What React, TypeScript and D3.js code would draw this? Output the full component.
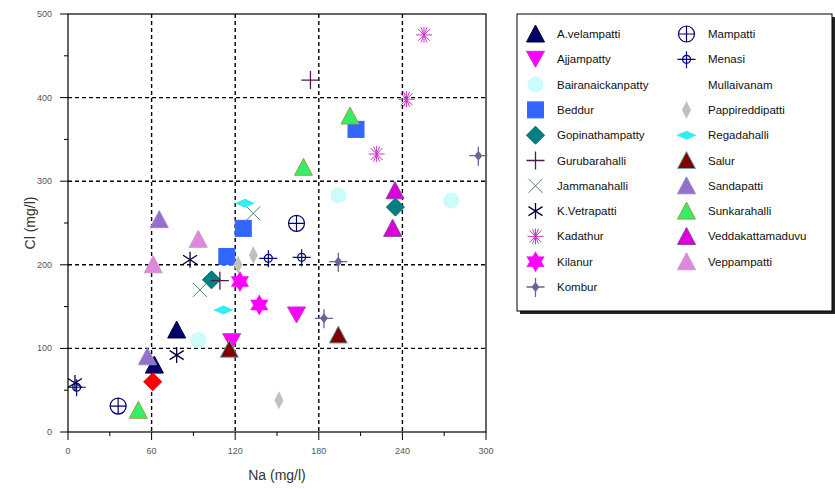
import React from 'react';
import * as d3 from 'd3';

// ---------- data (Na mg/l, Cl mg/l) ----------
const xTicks = [0, 60, 120, 180, 240, 300];
const yTicks = [0, 100, 200, 300, 400, 500];
const xMinor = [30, 90, 150, 210, 270];
const yMinor = [50, 150, 250, 350, 450];

const aVelampatti = [[78, 122], [62, 80]];
const ajjampatty = [[164, 140], [117.5, 108]];
const bairanaickanpatty = [[194, 283], [275, 277], [93.5, 110]];
const beddur = [[206.7, 362], [125.8, 243.6], [114, 210]];
const gopinathampatty = [[235, 269], [103, 182]];
const gurubarahalli = [[174, 421], [109, 181]];
const jammanahalli = [[133, 261.5], [94.7, 170]];
const kVetrapatti = [[87.6, 206], [78, 92], [5, 58.6]];
const kadathur = [[255.5, 475], [243, 398], [221.5, 332.5]];
const kilanur = [[123.4, 180], [137.3, 152]];
const kombur = [[294.5, 330.5], [194, 203.7], [183.7, 136]];
const mampatti = [[164, 249.6], [36, 31]];
const menasi = [[167.7, 209], [143.8, 207.7], [6.2, 53.5]];
const mullaivanam = [[60.8, 60]];
const pappireddipatti = [[151.4, 38], [133, 211.7], [122, 200]];
const regadahalli = [[127, 273.5], [111.5, 146]];
const salur = [[115.8, 99], [194, 116]];
const sandapatti = [[65.5, 254], [57, 90]];
const sunkarahalli = [[202.4, 378], [169, 316.6], [50.5, 26]];
const veddakattamaduvu = [[234.7, 288.6], [233, 243.6]];
const veppampatti = [[93.5, 230.5], [61.2, 200]];

type Shape = 'triUp' | 'triDown' | 'circle' | 'square' | 'diamond' | 'plus' | 'cross' | 'ast6' | 'ast8' | 'star6' | 'star4' | 'circPlus' | 'smallCircPlus' | 'thinDiamond' | 'flatDiamond' | 'none';

interface Series { name: string; pts: number[][]; shape: Shape; fill: string; stroke: string; legendShape?: Shape; }

const series: Series[] = [
  { name: 'A.velampatti', pts: aVelampatti, shape: 'triUp', fill: '#000066', stroke: '#000044' },
  { name: 'Ajjampatty', pts: ajjampatty, shape: 'triDown', fill: '#ff00ff', stroke: '#cc33cc' },
  { name: 'Bairanaickanpatty', pts: bairanaickanpatty, shape: 'circle', fill: '#ccfbfb', stroke: 'none' },
  { name: 'Beddur', pts: beddur, shape: 'square', fill: '#3366ff', stroke: '#3366ff' },
  { name: 'Gopinathampatty', pts: gopinathampatty, shape: 'diamond', fill: '#008080', stroke: '#006666' },
  { name: 'Gurubarahalli', pts: gurubarahalli, shape: 'plus', fill: 'none', stroke: '#4d1a4d' },
  { name: 'Jammanahalli', pts: jammanahalli, shape: 'cross', fill: 'none', stroke: '#4d8080' },
  { name: 'K.Vetrapatti', pts: kVetrapatti, shape: 'ast6', fill: 'none', stroke: '#000033' },
  { name: 'Kadathur', pts: kadathur, shape: 'ast8', fill: 'none', stroke: '#cc33cc' },
  { name: 'Kilanur', pts: kilanur, shape: 'star6', fill: '#ff00ff', stroke: '#ff00ff' },
  { name: 'Kombur', pts: kombur, shape: 'star4', fill: '#666699', stroke: '#666699' },
  { name: 'Mampatti', pts: mampatti, shape: 'circPlus', fill: 'none', stroke: '#000066' },
  { name: 'Menasi', pts: menasi, shape: 'smallCircPlus', fill: 'none', stroke: '#000080' },
  { name: 'Mullaivanam', pts: mullaivanam, shape: 'diamond', fill: '#ff0000', stroke: '#dd0000', legendShape: 'none' },
  { name: 'Pappireddipatti', pts: pappireddipatti, shape: 'thinDiamond', fill: '#c0c0c0', stroke: '#c0c0c0' },
  { name: 'Regadahalli', pts: regadahalli, shape: 'flatDiamond', fill: '#33eeee', stroke: '#33eeee' },
  { name: 'Salur', pts: salur, shape: 'triUp', fill: '#800000', stroke: '#66aaaa' },
  { name: 'Sandapatti', pts: sandapatti, shape: 'triUp', fill: '#9370cc', stroke: '#9988cc' },
  { name: 'Sunkarahalli', pts: sunkarahalli, shape: 'triUp', fill: '#33ee66', stroke: '#a0a040' },
  { name: 'Veddakattamaduvu', pts: veddakattamaduvu, shape: 'triUp', fill: '#dd00dd', stroke: '#884499' },
  { name: 'Veppampatti', pts: veppampatti, shape: 'triUp', fill: '#dd88dd', stroke: '#cc99cc' },
];

// ---------- layout ----------
const W = 835, H = 489;
const X0 = 68, X1 = 486, Y0 = 432, Y1 = 14;
const x = d3.scaleLinear().domain([0, 300]).range([X0, X1]);
const y = d3.scaleLinear().domain([0, 500]).range([Y0, Y1]);

function Marker({ shape, fill, stroke, cx, cy }: { shape: Shape; fill: string; stroke: string; cx: number; cy: number }) {
  const t = `translate(${cx},${cy})`;
  switch (shape) {
    case 'triUp':
      return <path transform={t} d="M0,-9 L9,8 L-9,8 Z" fill={fill} stroke={stroke} strokeWidth={1} />;
    case 'triDown':
      return <path transform={t} d="M0,8 L9,-8 L-9,-8 Z" fill={fill} stroke={stroke} strokeWidth={1} />;
    case 'circle':
      return <circle cx={cx} cy={cy} r={8} fill={fill} />;
    case 'square':
      return <rect x={cx - 8} y={cy - 8} width={16} height={16} fill={fill} stroke={stroke} />;
    case 'diamond':
      return <path transform={t} d="M0,-9 L9,0 L0,9 L-9,0 Z" fill={fill} stroke={stroke} />;
    case 'plus':
      return <path transform={t} d="M-9,0 L9,0 M0,-9 L0,9" stroke={stroke} strokeWidth={1.3} fill="none" />;
    case 'cross':
      return <path transform={t} d="M-7,-7 L7,7 M7,-7 L-7,7" stroke={stroke} strokeWidth={1} fill="none" />;
    case 'ast6':
      return <path transform={t} d="M0,-8 L0,8 M-7,-4.5 L7,4.5 M-7,4.5 L7,-4.5" stroke={stroke} strokeWidth={1.3} fill="none" />;
    case 'ast8':
      return <path transform={t} d="M0,-8 L0,8 M-8,0 L8,0 M-6,-6 L6,6 M-6,6 L6,-6 M-3,-7.5 L3,7.5 M3,-7.5 L-3,7.5" stroke={stroke} strokeWidth={1} fill="none" />;
    case 'star6': {
      const r = 10;
      const p1 = d3.range(3).map(i => { const a = -Math.PI / 2 + i * 2 * Math.PI / 3; return [r * Math.cos(a), r * Math.sin(a)]; });
      const p2 = d3.range(3).map(i => { const a = Math.PI / 2 + i * 2 * Math.PI / 3; return [r * Math.cos(a), r * Math.sin(a)]; });
      const d = 'M' + p1.map(p => p.join(',')).join('L') + 'Z M' + p2.map(p => p.join(',')).join('L') + 'Z';
      return <path transform={t} d={d} fill={fill} stroke={stroke} strokeWidth={0.5} />;
    }
    case 'star4':
      return (
        <g transform={t}>
          <path d="M-9,0 L9,0 M0,-9 L0,10" stroke={stroke} strokeWidth={1.3} />
          <path d="M0,-5 L4,0 L0,5 L-4,0 Z" fill={fill} />
        </g>
      );
    case 'circPlus':
      return (
        <g transform={t}>
          <circle r={8} fill="none" stroke={stroke} strokeWidth={1.2} />
          <path d="M-8,0 L8,0 M0,-8 L0,8" stroke={stroke} strokeWidth={1.2} />
        </g>
      );
    case 'smallCircPlus':
      return (
        <g transform={t}>
          <circle r={4} fill="none" stroke={stroke} strokeWidth={1.2} />
          <path d="M-9,0 L9,0 M0,-8 L0,9" stroke={stroke} strokeWidth={1.2} />
        </g>
      );
    case 'thinDiamond':
      return <path transform={t} d="M0,-9 L4.5,0 L0,9 L-4.5,0 Z" fill={fill} />;
    case 'flatDiamond':
      return <path transform={t} d="M0,-4.5 L10,0 L0,4.5 L-10,0 Z" fill={fill} />;
    default:
      return null;
  }
}

export default function App() {
  const font = 'Arial, "Liberation Sans", sans-serif';
  const col1 = series.slice(0, 11);
  const col2 = series.slice(11);
  const ly0 = 34, ldy = 25.3;
  return (
    <svg width={W} height={H} style={{ position: 'absolute', left: 0, top: 0, background: '#fff' }} fontFamily={font}>
      <rect width={W} height={H} fill="#fff" />
      {/* grid */}
      {xTicks.slice(1, -1).map(v => (
        <line key={'gx' + v} x1={x(v)} x2={x(v)} y1={Y1} y2={Y0} stroke="#000" strokeWidth={1.4} strokeDasharray="4,3" />
      ))}
      {yTicks.slice(1, -1).map(v => (
        <line key={'gy' + v} x1={X0} x2={X1} y1={y(v)} y2={y(v)} stroke="#000" strokeWidth={1.4} strokeDasharray="4,3" />
      ))}
      {/* frame */}
      <rect x={X0} y={Y1} width={X1 - X0} height={Y0 - Y1} fill="none" stroke="#000" strokeWidth={1.2} />
      {/* ticks */}
      {xTicks.map(v => <line key={'tx' + v} x1={x(v)} x2={x(v)} y1={Y0} y2={Y0 + 8} stroke="#000" />)}
      {xMinor.map(v => <line key={'mx' + v} x1={x(v)} x2={x(v)} y1={Y0} y2={Y0 + 4} stroke="#000" />)}
      {yTicks.map(v => <line key={'ty' + v} x1={X0 - 8} x2={X0} y1={y(v)} y2={y(v)} stroke="#000" />)}
      {yMinor.map(v => <line key={'my' + v} x1={X0 - 4} x2={X0} y1={y(v)} y2={y(v)} stroke="#000" />)}
      {xTicks.map(v => (
        <text key={'lx' + v} x={x(v)} y={454} fontSize={9} fill="#555" textAnchor="middle">{v}</text>
      ))}
      {yTicks.map(v => (
        <text key={'ly' + v} x={52} y={y(v) + 3} fontSize={9} fill="#555" textAnchor="end">{v}</text>
      ))}
      <text x={277} y={480} fontSize={14} fill="#333" textAnchor="middle">Na (mg/l)</text>
      <text transform={`translate(35,${(Y0 + Y1) / 2}) rotate(-90)`} fontSize={14} fill="#333" textAnchor="middle">Cl (mg/l)</text>
      {/* points */}
      {series.map(s => s.pts.map((p, i) => (
        <Marker key={s.name + i} shape={s.shape} fill={s.fill} stroke={s.stroke} cx={x(p[0])} cy={y(p[1])} />
      )))}
      {/* legend */}
      <rect x={520} y={17} width={315} height={297} fill="#222" />
      <rect x={517} y={14} width={315} height={297} fill="#fff" stroke="#000" strokeWidth={1} />
      {col1.map((s, i) => (
        <g key={'l1' + s.name}>
          <Marker shape={s.legendShape ?? s.shape} fill={s.fill} stroke={s.stroke} cx={535.5} cy={ly0 + i * ldy} />
          <text x={557} y={ly0 + i * ldy + 4} fontSize={11.5} fill="#111">{s.name}</text>
        </g>
      ))}
      {col2.map((s, i) => (
        <g key={'l2' + s.name}>
          <Marker shape={s.legendShape ?? s.shape} fill={s.fill} stroke={s.stroke} cx={686.5} cy={ly0 + i * ldy} />
          <text x={708} y={ly0 + i * ldy + 4} fontSize={11.5} fill="#111">{s.name}</text>
        </g>
      ))}
    </svg>
  );
}
